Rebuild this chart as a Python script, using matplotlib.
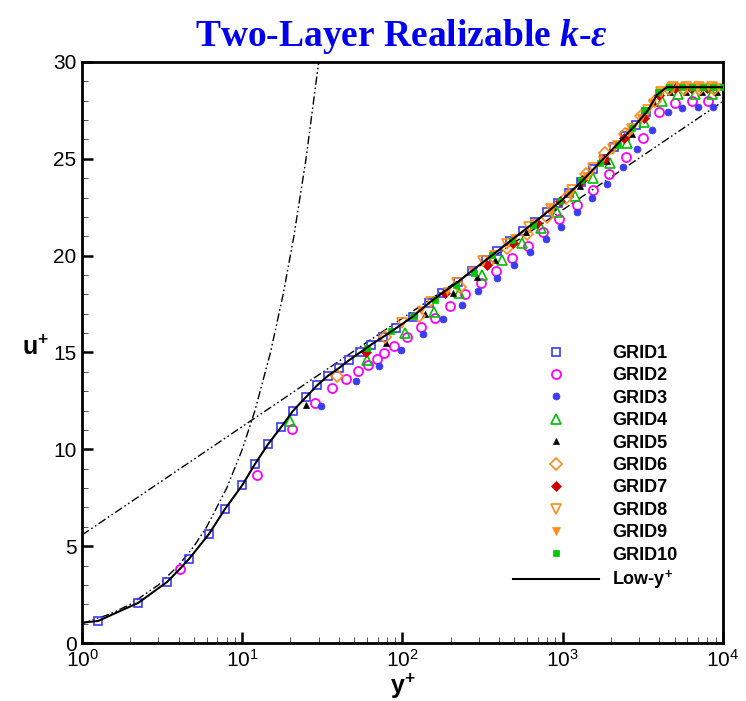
import numpy as np
import matplotlib
matplotlib.use('Agg')
import matplotlib.pyplot as plt
from matplotlib.ticker import LogLocator, MultipleLocator, NullFormatter

plt.rcParams['font.family'] = 'Liberation Sans'
plt.rcParams['mathtext.fontset'] = 'custom'
plt.rcParams['mathtext.rm'] = 'Liberation Sans'
plt.rcParams['mathtext.bf'] = 'Liberation Sans:bold'
plt.rcParams['mathtext.it'] = 'Liberation Serif:italic:bold'

# ---- data (y+, u+) ----
low_yp = [1, 1.26, 1.6, 2.24, 3.39, 4.07, 4.65, 6.2, 7.8, 10, 12, 14.5, 17.5, 20.7, 25, 29.3,
          34.3, 40.2, 46.4, 54.3, 63.6, 75.6, 91, 116, 146, 176, 222, 316, 398, 501, 631,
          721, 1000, 1337, 1995, 2818, 3404, 3873, 4467, 10000]
low_up = [1.05, 1.14, 1.53, 2.07, 3.15, 3.82, 4.34, 5.63, 6.92, 8.15, 9.24, 10.27, 11.15, 11.98,
          12.7, 13.3, 13.8, 14.2, 14.6, 15.0, 15.4, 15.8, 16.25, 16.85, 17.55, 18.05, 18.65,
          19.64, 20.28, 20.93, 21.57, 21.94, 22.9, 23.9, 25.4, 26.7, 27.5, 28.3, 28.7, 28.7]

# viscous sublayer u+ = y+ and log law
visc_yp = [1, 1.5, 2, 3, 4, 5, 6, 8, 10, 12, 15, 18, 21, 25, 30]
visc_up = [1, 1.5, 2, 3, 4, 5, 6, 8, 10, 12, 15, 18, 21, 25, 30]
log_yp = [1, 10000]
log_up = [5.58, 27.96]

grid1_yp = [1.26, 2.24, 3.39, 4.65, 6.2, 7.8, 10, 12, 14.5, 17.5, 20.7, 25, 29.3, 34.3, 40.2,
            46.4, 54.3, 63.6, 75.6, 91, 116, 146, 176, 222, 272, 330, 389, 469, 565, 675, 800,
            936, 1100, 1300, 1550, 1800, 2100, 2450, 2850, 3300]
grid1_up = [1.14, 2.07, 3.15, 4.34, 5.63, 6.92, 8.15, 9.24, 10.27, 11.15, 11.98, 12.7, 13.3,
            13.8, 14.2, 14.6, 15.0, 15.4, 15.8, 16.25, 16.85, 17.55, 18.05, 18.65, 19.22, 19.76,
            20.22, 20.74, 21.26, 21.76, 22.24, 22.7, 23.22, 23.8, 24.45, 25.0, 25.6, 26.2, 26.75,
            27.4]

grid2_yp = [4.09, 12.4, 20.4, 28.4, 36.3, 44.4, 52.7, 61, 69.3, 76.7, 88.5, 107, 130, 160, 198,
            245, 307, 383, 482, 607, 754, 948, 1227, 1548, 1950, 2480, 3170, 4000, 5020, 6400,
            8060]
grid2_up = [3.82, 8.67, 11.05, 12.39, 13.16, 13.63, 14.04, 14.35, 14.66, 14.97, 15.33, 15.8,
            16.3, 16.8, 17.4, 18.0, 18.6, 19.2, 19.9, 20.5, 21.2, 21.9, 22.6, 23.4, 24.2, 25.1,
            26.1, 27.4, 27.9, 28.0, 28.0]

grid3_yp = [31, 51.3, 71.3, 97.8, 134, 179, 235, 295, 389, 497, 625, 787, 980, 1227, 1523, 1890,
            2375, 2905, 3630, 4540, 5560, 6980, 8700]
grid3_up = [12.24, 13.53, 14.3, 15.13, 15.95, 16.73, 17.45, 18.17, 18.84, 19.5, 20.2, 20.86,
            21.5, 22.25, 23.0, 23.7, 24.6, 25.5, 26.5, 27.4, 27.6, 27.7, 27.7]

grid4_yp = [20, 60, 104, 157, 225, 313, 417, 556, 731, 920, 1192, 1548, 1973, 2515, 3240, 4170,
            5250, 6680, 8520]
grid4_up = [11.46, 14.6, 16.0, 17.1, 18.07, 19.0, 19.8, 20.65, 21.42, 22.25, 23.1, 24.0, 24.8,
            25.8, 26.9, 28.0, 28.35, 28.35, 28.35]

grid5_yp = [25, 79, 138, 207, 290, 380, 590, 870, 1285, 1900, 2700, 3700, 4700, 5900, 7400, 9200]
grid5_up = [12.3, 15.5, 17.0, 18.07, 18.9, 19.8, 21.2, 22.5, 23.6, 24.9, 26.3, 27.9, 28.45,
            28.45, 28.45, 28.45]

grid6_yp = [39, 78, 126, 228, 340, 450, 600, 800, 1050, 1400, 1850, 2450, 3100, 3770, 4600,
            5700, 7100, 8800]
grid6_up = [13.8, 15.8, 16.9, 18.4, 19.6, 20.4, 21.1, 22.0, 23.0, 24.2, 25.3, 26.3, 27.2, 28.0,
            28.6, 28.6, 28.6, 28.6]

grid7_yp = [59, 184, 337, 490, 690, 960, 1320, 1800, 2400, 3200, 4000, 5000, 6300, 8000]
grid7_up = [15.0, 18.07, 19.5, 20.65, 21.7, 22.8, 23.9, 25.0, 26.1, 27.1, 28.3, 28.65, 28.65,
            28.65]

grid8_yp = [100, 150, 220, 320, 450, 620, 850, 1150, 1550, 2050, 2700, 3400, 4100, 4900, 5900,
            7100, 8500]
grid8_up = [16.5, 17.6, 18.6, 19.7, 20.6, 21.5, 22.4, 23.4, 24.5, 25.5, 26.55, 27.5, 28.45,
            28.7, 28.7, 28.7, 28.7]

grid9_yp = [130, 190, 270, 370, 500, 660, 860, 1100, 1400, 1750, 2150, 2600, 3100, 3600, 4100,
            4700, 5400, 6200, 7100, 8100, 9200]
grid9_up = [17.2, 18.2, 19.2, 20.1, 20.9, 21.7, 22.4, 23.2, 24.1, 24.95, 25.75, 26.4, 27.1,
            27.9, 28.45, 28.7, 28.7, 28.7, 28.7, 28.7, 28.7]

grid10_yp = [60, 85, 117, 160, 215, 280, 363, 480, 650, 960, 1300, 1700, 2200, 2700, 3260, 3930,
             4600, 5550, 6410, 7500, 8670, 10000]
grid10_up = [15.25, 16.1, 16.9, 17.7, 18.5, 19.1, 20.05, 20.8, 21.6, 22.8, 23.9, 24.8, 25.7,
             26.6, 27.5, 28.45, 28.7, 28.7, 28.7, 28.7, 28.7, 28.7]

grids = [
    ('GRID1', grid1_yp, grid1_up, dict(marker='s', ms=6, mfc='none', mec='#3b3bf2', mew=1.2)),
    ('GRID2', grid2_yp, grid2_up, dict(marker='o', ms=6.5, mfc='none', mec='#ff00ff', mew=1.3)),
    ('GRID3', grid3_yp, grid3_up, dict(marker='o', ms=5, mfc='#3b3bf2', mec='#3b3bf2', mew=0.5)),
    ('GRID4', grid4_yp, grid4_up, dict(marker='^', ms=7, mfc='none', mec='#00c000', mew=1.2)),
    ('GRID5', grid5_yp, grid5_up, dict(marker='^', ms=5, mfc='black', mec='black', mew=0.5)),
    ('GRID6', grid6_yp, grid6_up, dict(marker='D', ms=6, mfc='none', mec='#ff8c1a', mew=1.2)),
    ('GRID7', grid7_yp, grid7_up, dict(marker='D', ms=5, mfc='#cc0000', mec='#cc0000', mew=0.5)),
    ('GRID8', grid8_yp, grid8_up, dict(marker='v', ms=6.5, mfc='none', mec='#ff8c1a', mew=1.2)),
    ('GRID9', grid9_yp, grid9_up, dict(marker='v', ms=6, mfc='#ff8c1a', mec='#ff8c1a', mew=0.5)),
    ('GRID10', grid10_yp, grid10_up, dict(marker='s', ms=5, mfc='#00c800', mec='#00c800', mew=0.5)),
]

fig = plt.figure(figsize=(7.46, 7.01), dpi=100)
ax = fig.add_axes([0.110, 0.0827, 0.859, 0.8289])

dashdot = (0, (6, 2, 1.2, 2, 1.2, 2))
ax.plot(visc_yp, visc_up, color='black', lw=1.0, linestyle=dashdot, zorder=2)
ax.plot(log_yp, log_up, color='black', lw=1.0, linestyle=dashdot, zorder=2)

for name, yp, up, st in grids:
    ax.plot(yp, up, linestyle='none', label=name, zorder=3, **st)

ax.plot(low_yp, low_up, color='black', lw=1.5, label=r'Low-y$^{\mathbf{+}}$', zorder=5)

ax.set_xscale('log')
ax.set_xlim(1, 1e4)
ax.set_ylim(0, 30)

ax.xaxis.set_major_locator(LogLocator(base=10, numticks=10))
ax.xaxis.set_minor_locator(LogLocator(base=10, subs=np.arange(2, 10), numticks=50))
ax.xaxis.set_minor_formatter(NullFormatter())
ax.yaxis.set_major_locator(MultipleLocator(5))
ax.yaxis.set_minor_locator(MultipleLocator(1))

ax.tick_params(which='major', direction='in', length=8, width=1.8, labelsize=15, pad=4)
ax.tick_params(which='minor', direction='in', length=4.5, width=0.7, color='#555555')
for sp in ax.spines.values():
    sp.set_linewidth(2.0)

ax.set_xlabel(r'$\mathbf{y^{+}}$', fontsize=18)
ax.xaxis.set_label_coords(0.5, -0.05)
ax.set_ylabel(r'$\mathbf{u^{+}}$', fontsize=18, rotation=0, va='center')
ax.yaxis.set_label_coords(-0.072, 0.508)

leg = ax.legend(loc='upper left', bbox_to_anchor=(0.672, 0.513), frameon=False,
                handlelength=4.8, handletextpad=0.7, labelspacing=0.30, borderpad=0,
                borderaxespad=0, numpoints=1, prop={'weight': 'bold', 'size': 13})

fig.text(0.538, 0.935, r'Two-Layer Realizable $k$-$\varepsilon$', family='Liberation Serif',
         weight='bold', color='#0000ee', fontsize=27, ha='center', va='baseline')

fig.savefig('out.png', dpi=100)
